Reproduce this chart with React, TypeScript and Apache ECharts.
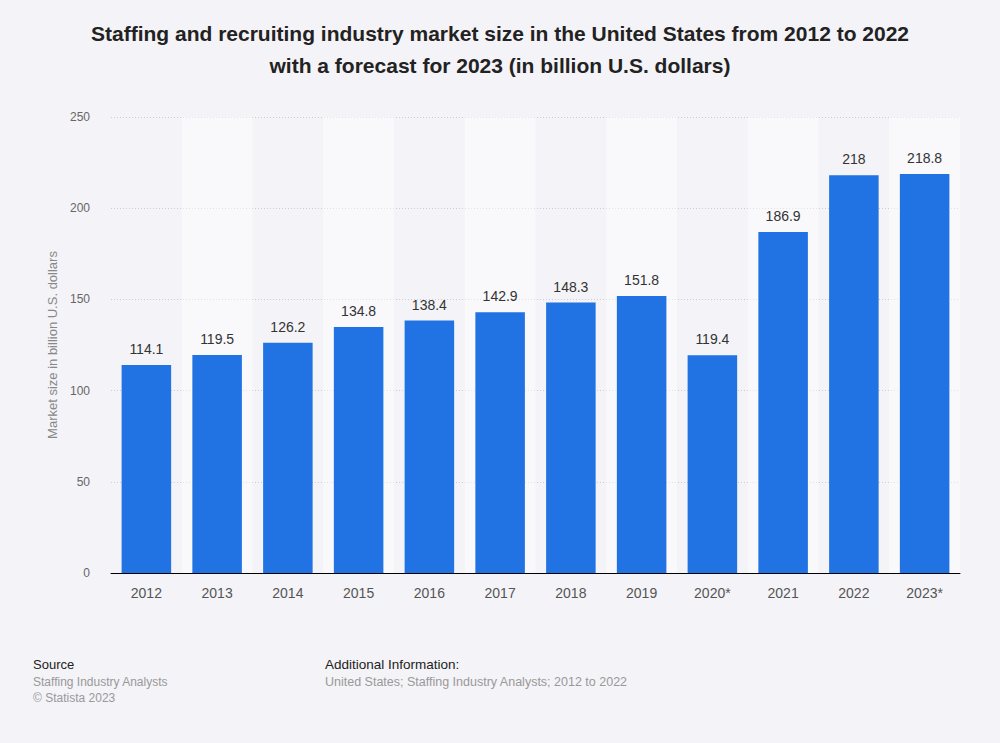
import React, { useEffect, useRef } from "react";
import * as echarts from "echarts";

const categories = ["2012", "2013", "2014", "2015", "2016", "2017", "2018", "2019", "2020*", "2021", "2022", "2023*"];
const values = [114.1, 119.5, 126.2, 134.8, 138.4, 142.9, 148.3, 151.8, 119.4, 186.9, 218, 218.8];
const yTicks = [0, 50, 100, 150, 200, 250];

const FONT = "Liberation Sans, Arial, sans-serif";

export default function App() {
  const ref = useRef<HTMLDivElement>(null);
  useEffect(() => {
    const chart = echarts.init(ref.current!, null, { renderer: "svg" });
    chart.setOption({
      animation: false,
      backgroundColor: "#f4f3f7",
      title: {
        text: "Staffing and recruiting industry market size in the United States from 2012 to 2022\nwith a forecast for 2023 (in billion U.S. dollars)",
        left: "center",
        top: 17,
        padding: 0,
        textStyle: {
          fontFamily: FONT,
          fontSize: 21,
          fontWeight: "bold",
          color: "#222222",
          lineHeight: 32,
        },
      },
      grid: { left: 111, right: 40, top: 117, bottom: 170 },
      xAxis: {
        type: "category",
        data: categories,
        axisLine: { lineStyle: { color: "#000000", width: 1 } },
        axisTick: { show: false },
        axisLabel: {
          color: "#555555",
          fontSize: 14,
          fontFamily: FONT,
          margin: 13,
        },
        splitArea: {
          show: true,
          areaStyle: { color: ["rgba(255,255,255,0)", "rgba(255,255,255,0.45)"] },
        },
      },
      yAxis: {
        type: "value",
        min: yTicks[0],
        max: yTicks[yTicks.length - 1],
        interval: 50,
        name: "Market size in billion U.S. dollars",
        nameLocation: "middle",
        nameGap: 51,
        nameTextStyle: {
          color: "#888888",
          fontSize: 13,
          fontFamily: FONT,
        },
        axisLine: { show: false },
        axisTick: { show: false },
        axisLabel: {
          color: "#666666",
          fontSize: 12,
          fontFamily: FONT,
          margin: 21,
        },
        splitLine: { lineStyle: { color: "#cccccf", type: [1, 2], width: 1 } },
      },
      series: [
        {
          type: "bar",
          data: values,
          barWidth: "70%",
          itemStyle: { color: "#2173e3" },
          label: {
            show: true,
            position: "top",
            distance: 9,
            color: "#333333",
            fontSize: 14,
            fontFamily: FONT,
          },
        },
      ],
      graphic: [
        {
          type: "text",
          left: 33,
          top: 658,
          style: { text: "Source", fill: "#222222", fontSize: 13, fontFamily: FONT },
        },
        {
          type: "text",
          left: 33,
          top: 674,
          style: {
            text: "Staffing Industry Analysts\n© Statista 2023",
            fill: "#999999",
            fontSize: 12,
            lineHeight: 16,
            fontFamily: FONT,
          },
        },
        {
          type: "text",
          left: 325,
          top: 657,
          style: { text: "Additional Information:", fill: "#222222", fontSize: 13.5, fontFamily: FONT },
        },
        {
          type: "text",
          left: 325,
          top: 675,
          style: {
            text: "United States; Staffing Industry Analysts; 2012 to 2022",
            fill: "#999999",
            fontSize: 12.5,
            fontFamily: FONT,
          },
        },
      ],
    });
    return () => chart.dispose();
  }, []);
  return <div ref={ref} style={{ position: "absolute", left: 0, top: 0, width: 1000, height: 743 }} />;
}
